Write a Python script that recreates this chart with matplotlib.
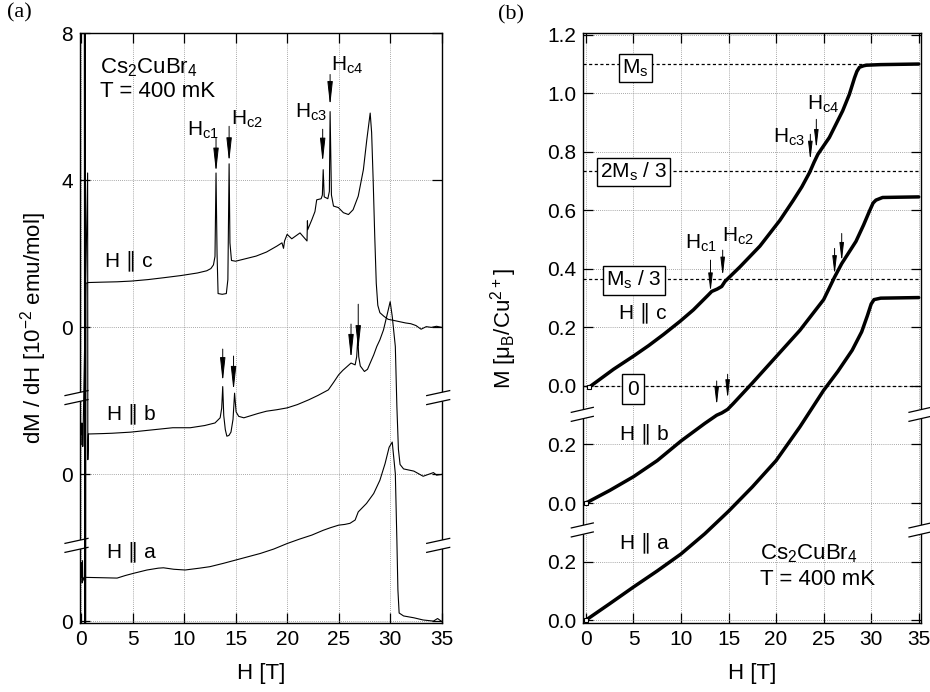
import matplotlib
matplotlib.use("Agg")
import matplotlib.pyplot as plt
from matplotlib.patches import Polygon

plt.rcParams['font.family'] = ['Liberation Sans', 'DejaVu Sans']
plt.rcParams['mathtext.default'] = 'regular'

# ---------------- DATA ----------------
# (a) dM/dH, each curve in its own units, shifted by an offset
h_dmdh_c = [0.32, 0.36, 0.40, 0.44, 0.48, 0.71, 2.0, 3.5, 4.9, 6.5, 8.0, 9.7, 11.3, 12.2, 12.6,
            12.85, 13.0, 13.1, 13.2, 13.3, 13.7, 14.1, 14.25, 14.37, 14.45, 14.6, 15.0, 16.0,
            17.0, 18.0, 19.0, 19.5, 19.65, 19.75, 20.0, 20.45, 21.25, 21.93, 21.97, 22.0, 22.4,
            22.7, 22.87, 23.3, 23.42, 23.5, 23.6, 23.95, 24.1, 24.17, 24.3, 24.5, 24.97, 25.46,
            25.95, 26.4, 26.9, 27.4, 27.73, 28.06, 28.2, 28.35, 28.5, 28.65, 28.8, 29.0, 29.4,
            29.8, 30.5, 31.0, 31.5, 32.0, 32.5, 33.0, 33.5, 34.0, 34.5, 35.0]
dmdh_c = [9.0, -9.0, 9.0, -9.0, 1.2, 1.22, 1.23, 1.24, 1.26, 1.30, 1.35, 1.41, 1.48, 1.54, 1.60,
          1.70, 1.93, 4.20, 2.00, 0.92, 0.90, 0.92, 1.30, 4.45, 2.30, 1.82, 1.80, 1.87,
          1.94, 2.05, 2.21, 2.30, 2.15, 2.35, 2.53, 2.41, 2.57, 2.35, 2.90, 2.66, 2.93,
          3.15, 3.47, 3.50, 3.60, 4.29, 3.55, 3.50, 3.70, 5.87, 3.60, 3.30, 3.26, 3.12,
          3.07, 3.20, 3.57, 4.29, 5.10, 5.83, 5.30, 4.00, 2.50, 1.20, 0.60, 0.40, 0.30,
          0.22, 0.18, 0.15, 0.12, 0.10, 0.05, -0.05, 0.02, 0.0, 0.03, 0.0]

h_dmdh_b = [0.05, 0.08, 0.11, 0.14, 0.17, 0.20, 0.64, 0.66, 0.72, 2.0, 3.0, 4.8, 6.5, 8.9, 10.6,
            12.0, 13.0, 13.5, 13.65, 13.75, 13.85, 14.0, 14.15, 14.35, 14.55, 14.75, 14.9, 15.05,
            15.3, 15.8, 16.5, 17.2, 18.0, 19.0, 20.0, 21.0, 22.1, 23.0, 24.0, 24.5, 25.0, 25.4,
            25.8, 26.2, 26.6, 26.75, 26.86, 26.95, 27.1, 27.5, 27.8, 28.06, 28.4, 28.7, 29.0,
            29.35, 29.7, 30.0, 30.2, 30.5, 30.65, 30.8, 30.96, 31.3, 32.3, 33.2, 33.7, 34.2,
            34.5, 35.0]
dmdh_b = [1.10, 1.40, 0.80, 1.35, 0.76, 1.10, 8.2, 0.40, 1.10, 1.11, 1.12, 1.15, 1.20, 1.27, 1.27,
          1.33, 1.40, 1.54, 1.80, 2.39, 1.60, 1.22, 1.04, 1.06, 1.15, 1.50, 2.21, 1.70,
          1.58, 1.54, 1.60, 1.66, 1.72, 1.76, 1.81, 1.90, 2.03, 2.15, 2.30, 2.50, 2.71, 2.83,
          2.93, 3.03, 2.98, 3.20, 3.72, 3.20, 2.95, 2.80, 2.86, 3.03, 3.25, 3.48, 3.66,
          3.93, 4.34, 4.70, 4.30, 3.48, 1.85, 0.68, 0.27, 0.15, 0.09, -0.05, 0.0, 0.05,
          -0.02, 0.0]

h_dmdh_a = [0.05, 0.08, 0.11, 0.14, 0.17, 0.30, 2.0, 3.5, 4.3, 5.1, 6.4, 7.5, 8.0, 9.0, 10.1, 11.5,
            12.5, 13.8, 15.0, 16.2, 17.4, 18.7, 20.0, 21.2, 22.4, 23.5, 24.2, 25.0, 25.6, 26.1,
            26.6, 26.9, 27.7, 28.4, 29.0, 29.5, 29.9, 30.2, 30.5, 30.65, 30.75, 30.87, 31.3,
            32.3, 33.2, 34.2, 34.6, 35.0]
dmdh_a = [1.20, 1.60, 1.05, 1.65, 1.10, 1.20, 1.19, 1.18, 1.25, 1.31, 1.40, 1.45, 1.46, 1.42, 1.40,
          1.45, 1.49, 1.58, 1.67, 1.76, 1.85, 1.97, 2.12, 2.24, 2.35, 2.48, 2.55, 2.62, 2.64,
          2.67, 2.76, 2.98, 3.21, 3.48, 3.84, 4.29, 4.74, 4.88, 4.02, 2.21, 0.86, 0.23, 0.15,
          0.10, 0.04, 0.01, 0.08, 0.0]

dmdh_offsets = [0, -4, -8]

# (b) magnetization M [muB/Cu2+]
h_m_c = [0.3, 2.9, 5.0, 6.6, 8.16, 9.9, 11.3, 12.87, 13.23, 13.8, 14.28, 14.62, 16.2, 18.3, 20.4,
         21.8, 22.7, 23.53, 24.0, 24.4, 25.6, 27.0, 27.7, 28.25, 28.5, 28.77, 29.2, 29.5, 31.0,
         33.0, 35.0]
m_c = [-0.005, 0.057, 0.102, 0.138, 0.176, 0.221, 0.26, 0.311, 0.323, 0.331, 0.34, 0.357, 0.407,
       0.478, 0.566, 0.634, 0.68, 0.73, 0.765, 0.792, 0.849, 0.94, 0.996, 1.053, 1.075, 1.089,
       1.094, 1.096, 1.098, 1.099, 1.1]

h_m_b = [0.0, 2.5, 5.0, 7.5, 10.0, 12.5, 13.75, 14.3, 14.9, 15.5, 17.5, 20.0, 22.5, 25.0, 26.15,
         26.9, 28.4, 29.2, 29.8, 30.2, 30.5, 31.2, 33.0, 35.0]
m_b = [0.0, 0.043, 0.09, 0.145, 0.212, 0.272, 0.30, 0.308, 0.32, 0.34, 0.41, 0.5, 0.59, 0.695,
       0.772, 0.818, 0.894, 0.95, 0.996, 1.025, 1.035, 1.044, 1.045, 1.046]

h_m_a = [0.0, 2.5, 5.0, 7.5, 10.0, 12.5, 15.0, 17.5, 20.0, 22.5, 25.0, 26.5, 28.0, 29.0, 29.6,
         30.0, 30.3, 31.0, 33.0, 35.0]
m_a = [0.0, 0.056, 0.113, 0.168, 0.226, 0.295, 0.372, 0.455, 0.545, 0.66, 0.785, 0.85, 0.922,
       0.985, 1.04, 1.08, 1.095, 1.1, 1.101, 1.102]

m_offsets = [0, -0.4, -0.8]
ms_levels = [1.1, 0.733, 0.367, 0.0]
ms_labels = ['M$_s$', '2M$_s$ / 3', 'M$_s$ / 3', '0']

# arrows: (H, tail, tip) in axis units
arrows_a = [(13.1, 5.16, 4.21), (14.37, 5.47, 4.49), (23.45, 5.39, 4.48), (24.17, 6.88, 6.02),
            (13.75, -0.59, -1.49), (14.8, -0.78, -1.73), (26.2, 0.09, -0.86), (26.9, 0.63, -0.62)]
arrows_b = [(13.1, 0.43, 0.32), (14.38, 0.464, 0.374), (23.6, 0.86, 0.77), (24.23, 0.911, 0.81),
            (26.15, 0.47, 0.379), (26.9, 0.521, 0.424), (13.75, 0.017, -0.068), (14.9, 0.04, -0.045)]

FIG_W, FIG_H = 930, 692


def draw_break(ax, yc, xl_px=-13, xr_px=10, gap_px=9, rise_px=5):
    pos = ax.get_position()
    w_px = pos.width * FIG_W
    h_px = pos.height * FIG_H
    y0, y1 = ax.get_ylim()
    ppu = h_px / (y1 - y0)
    tr = ax.get_yaxis_transform()
    g = gap_px / 2 / ppu
    r = rise_px / 2 / ppu
    for xa in (0, 1):
        xl = xa + xl_px / w_px
        xr = xa + xr_px / w_px
        pts = [(xl, yc - g - r), (xr, yc - g + r), (xr, yc + g + r), (xl, yc + g - r)]
        ax.add_patch(Polygon(pts, closed=True, fc='white', ec='none', transform=tr,
                             clip_on=False, zorder=2.6))
        for s in (-g, g):
            ax.plot([xl, xr], [yc + s - r, yc + s + r], color='k', lw=0.9, transform=tr,
                    clip_on=False, zorder=2.7)


def style_axes(ax):
    ax.tick_params(direction='in', top=True, right=True, length=7, width=0.9,
                   labelsize=15, pad=5)
    ax.grid(True, color='0.55', linestyle=(0, (1, 1.5)), lw=0.6)
    ax.set_axisbelow(True)
    for sp in ax.spines.values():
        sp.set_linewidth(1.0)
    ax.set_xticks(range(0, 36, 5))
    ax.set_xlabel('H [T]', fontsize=16, labelpad=10)


fig = plt.figure(figsize=(9.3, 6.92), dpi=100)

# ---------------- panel (a) ----------------
ax1 = fig.add_axes([80 / FIG_W, 1 - 623.3 / FIG_H, 361.7 / FIG_W, 590 / FIG_H])
style_axes(ax1)
ax1.set_xlim(-0.1, 35)
ax1.set_ylim(-8.05, 8)
ax1.set_yticks([8, 4, 0, -4, -8])
ax1.set_yticklabels(['8', '4', '0', '0', '0'])
ax1.set_ylabel('dM / dH [10$^{-2}$ emu/mol]', fontsize=16, labelpad=9)

for h, v, off in zip([h_dmdh_c, h_dmdh_b, h_dmdh_a], [dmdh_c, dmdh_b, dmdh_a], dmdh_offsets):
    ax1.plot(h, [x + off for x in v], color='k', lw=0.8, zorder=3)

for x, t0, t1 in arrows_a:
    ax1.annotate('', xy=(x, t1), xytext=(x, t0),
                 arrowprops=dict(arrowstyle='-|>,head_length=1.45,head_width=0.16',
                                 color='k', lw=0.7, shrinkA=0, shrinkB=0, mutation_scale=10),
                 zorder=5)

ax1.text(1.84, 7.07, 'Cs$_2$CuBr$_4$', fontsize=16, va='center')
ax1.text(1.84, 6.42, 'T = 400 mK', fontsize=16, va='center')
ax1.text(10.26, 5.22, 'H$_{c1}$', fontsize=15, va='baseline')
ax1.text(14.6, 5.52, 'H$_{c2}$', fontsize=15, va='baseline')
ax1.text(20.8, 5.71, 'H$_{c3}$', fontsize=15, va='baseline')
ax1.text(24.27, 6.97, 'H$_{c4}$', fontsize=15, va='baseline')
ax1.text(2.33, 1.67, 'H ∥ c', fontsize=15, va='baseline')
ax1.text(2.52, -2.49, 'H ∥ b', fontsize=15, va='baseline')
ax1.text(2.52, -6.25, 'H ∥ a', fontsize=15, va='baseline')

draw_break(ax1, -1.91, -15, 8)
draw_break(ax1, -5.93, -15, 8)

# ---------------- panel (b) ----------------
ax2 = fig.add_axes([583.3 / FIG_W, 1 - 623.3 / FIG_H, 337.7 / FIG_W, 590 / FIG_H])
style_axes(ax2)
ax2.set_xlim(-0.28, 35.24)
ax2.set_ylim(-0.811, 1.205)
yt = [1.2, 1.0, 0.8, 0.6, 0.4, 0.2, 0.0, -0.2, -0.4, -0.6, -0.8]
ax2.set_yticks(yt)
ax2.set_yticklabels(['1.2', '1.0', '0.8', '0.6', '0.4', '0.2', '0.0', '0.2', '0.0', '0.2', '0.0'])
ax2.set_ylabel('M [μ$_B$/Cu$^{2+}$]', fontsize=16, labelpad=20)

for lvl in ms_levels:
    ax2.axhline(lvl, color='k', lw=0.9, linestyle=(0, (2.5, 2)), zorder=2.2)
box_pos = [(5.19, 1.086, 0.15), (4.98, 0.731, 0.15), (5.03, 0.361, 0.15), (4.98, -0.011, 0.25)]
for (bx, by, pad), lab in zip(box_pos, ms_labels):
    ax2.text(bx, by, lab, fontsize=15, ha='center', va='center',
             bbox=dict(boxstyle=f'square,pad={pad}', fc='white', ec='k', lw=1), zorder=4)

for h, v, off in zip([h_m_c, h_m_b, h_m_a], [m_c, m_b, m_a], m_offsets):
    ax2.plot(h, [x + off for x in v], color='k', lw=2.5, zorder=3, solid_capstyle='round')
    ax2.plot(h[0], v[0] + off, 's', ms=2.5, mfc='white', mec='k', mew=0.8, zorder=3.5)

for x, t0, t1 in arrows_b:
    ax2.annotate('', xy=(x, t1), xytext=(x, t0),
                 arrowprops=dict(arrowstyle='-|>,head_length=1.1,head_width=0.13',
                                 color='k', lw=0.7, shrinkA=0, shrinkB=0, mutation_scale=10),
                 zorder=5)

ax2.text(10.4, 0.47, 'H$_{c1}$', fontsize=15, va='baseline')
ax2.text(14.27, 0.492, 'H$_{c2}$', fontsize=15, va='baseline')
ax2.text(19.7, 0.832, 'H$_{c3}$', fontsize=15, va='baseline')
ax2.text(23.2, 0.945, 'H$_{c4}$', fontsize=15, va='baseline')
ax2.text(3.44, 0.232, 'H ∥ c', fontsize=15, va='baseline')
ax2.text(3.62, -0.181, 'H ∥ b', fontsize=15, va='baseline')
ax2.text(3.62, -0.555, 'H ∥ a', fontsize=15, va='baseline')
ax2.text(18.3, -0.594, 'Cs$_2$CuBr$_4$', fontsize=16, va='baseline')
ax2.text(18.3, -0.679, 'T = 400 mK', fontsize=16, va='baseline')

draw_break(ax2, -0.097, -12, 10)
draw_break(ax2, -0.492, -12, 10)

fig.text(7 / FIG_W, 1 - 13 / FIG_H, '(a)', family='Liberation Serif', fontsize=16, va='center')
fig.text(498 / FIG_W, 1 - 15 / FIG_H, '(b)', family='Liberation Serif', fontsize=16, va='center')

fig.savefig('out.png', dpi=100)
